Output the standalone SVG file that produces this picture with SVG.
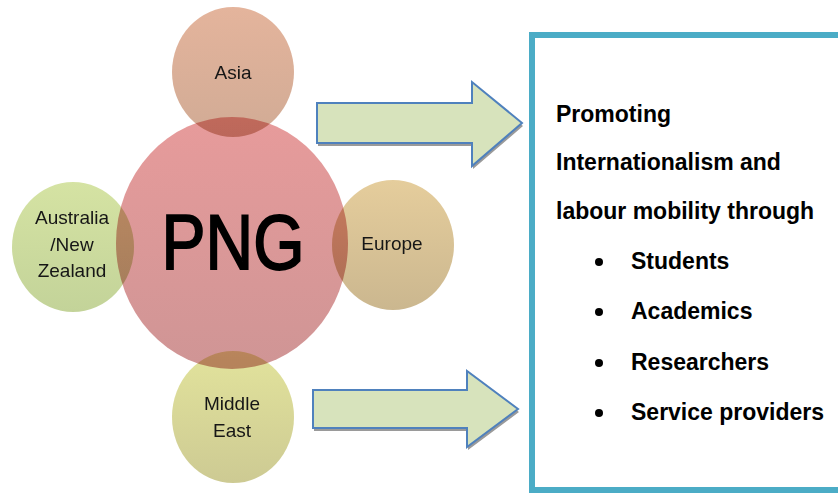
<svg xmlns="http://www.w3.org/2000/svg" width="838" height="493" viewBox="0 0 838 493">
  <defs>
    <linearGradient id="gAsia" x1="0" y1="0" x2="0" y2="1">
      <stop offset="0" stop-color="#e4b49c"/>
      <stop offset="1" stop-color="#d1ab95"/>
    </linearGradient>
    <linearGradient id="gPng" x1="0" y1="0" x2="0" y2="1">
      <stop offset="0" stop-color="#e79b9b"/>
      <stop offset="1" stop-color="#cf9595"/>
    </linearGradient>
    <linearGradient id="gEurope" x1="0" y1="0" x2="0" y2="1">
      <stop offset="0" stop-color="#e5cd9c"/>
      <stop offset="1" stop-color="#cbb78f"/>
    </linearGradient>
    <linearGradient id="gAus" x1="0" y1="0" x2="0" y2="1">
      <stop offset="0" stop-color="#d5e3a3"/>
      <stop offset="1" stop-color="#c3d399"/>
    </linearGradient>
    <linearGradient id="gMid" x1="0" y1="0" x2="0" y2="1">
      <stop offset="0" stop-color="#e2e39c"/>
      <stop offset="1" stop-color="#cdca93"/>
    </linearGradient>
  </defs>
  <style>
    .bubble { mix-blend-mode: multiply; }
    .lbl { font-family: "Liberation Sans", Arial, sans-serif; font-size: 19px; fill: #161616; text-anchor: middle; }
    .arrow { fill: #d7e3bc; stroke: #4f81bd; stroke-width: 2; stroke-linejoin: miter; }
    .shadow { fill: #9a9a9a; }
    .panel { fill: #ffffff; stroke: #4bacc6; stroke-width: 6; }
    .txt { font-family: "Liberation Sans", Arial, sans-serif; font-size: 23px; font-weight: bold; fill: #000000; }
  </style>

  <rect width="838" height="493" fill="#ffffff"/>

  <!-- circle cluster -->
  <g id="asia">
    <ellipse class="bubble" cx="233" cy="72" rx="61" ry="65" fill="url(#gAsia)"/>
  </g>
  <g id="europe">
    <ellipse class="bubble" cx="393" cy="245" rx="61" ry="65" fill="url(#gEurope)"/>
  </g>
  <g id="australia">
    <ellipse class="bubble" cx="73" cy="247" rx="61" ry="65" fill="url(#gAus)"/>
  </g>
  <g id="middle-east">
    <ellipse class="bubble" cx="233" cy="417" rx="61" ry="66" fill="url(#gMid)"/>
  </g>
  <g id="png">
    <ellipse class="bubble" cx="232" cy="243" rx="116" ry="126" fill="url(#gPng)"/>
  </g>

  <!-- labels drawn above all bubbles -->
  <g id="labels">
    <text class="lbl" x="233" y="79">Asia</text>
    <text class="lbl" x="392" y="250">Europe</text>
    <text class="lbl" x="72" y="224">Australia</text>
    <text class="lbl" x="72" y="251">/New</text>
    <text class="lbl" x="72" y="277">Zealand</text>
    <text class="lbl" x="232" y="410">Middle</text>
    <text class="lbl" x="232" y="437">East</text>
    <text transform="translate(233 269) scale(1 1.18)" style="font-family:'Liberation Sans', Arial, sans-serif; font-size:66px; fill:#000; stroke:#000; stroke-width:1.6; text-anchor:middle;">PNG</text>
  </g>

  <!-- block arrows, each with a thin drop shadow -->
  <g id="connectors">
    <polygon class="shadow" transform="translate(1 3)" points="317,103 472,103 472,82 522,123 472,166 472,143 317,143"/>
    <polygon class="arrow" points="317,103 472,103 472,82 522,123 472,166 472,143 317,143"/>
    <polygon class="shadow" transform="translate(1 3)" points="313,390 467,390 467,371 518,409 467,447 467,428 313,428"/>
    <polygon class="arrow" points="313,390 467,390 467,371 518,409 467,447 467,428 313,428"/>
  </g>

  <!-- outcome panel -->
  <g id="outcomes">
    <rect class="panel" x="532" y="35" width="320" height="455"/>
    <text class="txt" x="556" y="122">Promoting</text>
    <text class="txt" x="556" y="170">Internationalism and</text>
    <text class="txt" x="556" y="219">labour mobility through</text>
    <circle cx="599" cy="262" r="4" fill="#000"/>
    <text class="txt" x="631" y="269">Students</text>
    <circle cx="599" cy="312" r="4" fill="#000"/>
    <text class="txt" x="631" y="319">Academics</text>
    <circle cx="599" cy="363" r="4" fill="#000"/>
    <text class="txt" x="631" y="370">Researchers</text>
    <circle cx="599" cy="413" r="4" fill="#000"/>
    <text class="txt" x="631" y="420">Service providers</text>
  </g>
</svg>
